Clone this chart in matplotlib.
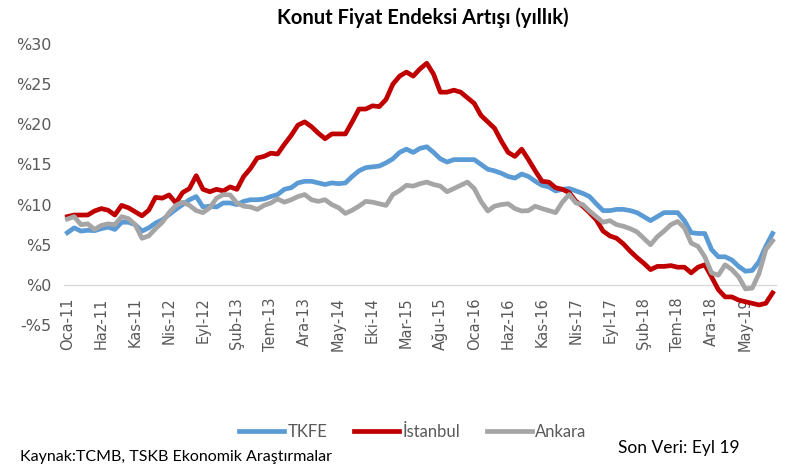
import numpy as np
import matplotlib
matplotlib.use("Agg")
import matplotlib.pyplot as plt

# monthly labels, Oca-11 .. Eyl-19
months_tr = ["Oca", "Şub", "Mar", "Nis", "May", "Haz",
             "Tem", "Ağu", "Eyl", "Eki", "Kas", "Ara"]
dates = [f"{months_tr[m]}-{y % 100:02d}" for y in range(2011, 2020) for m in range(12)]
dates = dates[:105]

tkfe = [6.5, 7.1, 6.7, 6.8, 6.75, 7.0, 7.2, 6.9, 7.8, 7.8,
        7.5, 6.7, 7.1, 7.7, 8.1, 8.75, 9.4, 10.0, 10.6, 11.0,
        9.7, 9.8, 9.7, 10.2, 10.2, 10.0, 10.4, 10.6, 10.6, 10.7,
        11.0, 11.25, 11.9, 12.1, 12.7, 12.9, 12.9, 12.7, 12.5, 12.7,
        12.6, 12.7, 13.5, 14.2, 14.6, 14.7, 14.8, 15.2, 15.7, 16.5,
        16.9, 16.5, 17.0, 17.2, 16.5, 15.7, 15.3, 15.6, 15.6, 15.6,
        15.6, 15.0, 14.4, 14.2, 13.9, 13.5, 13.3, 13.8, 13.5, 12.9,
        12.4, 12.2, 11.7, 11.9, 12.0, 11.7, 11.4, 11.0, 10.1, 9.25,
        9.25, 9.4, 9.4, 9.25, 9.0, 8.5, 8.0, 8.5, 9.0, 9.0,
        9.0, 8.0, 6.5, 6.4, 6.4, 4.4, 3.5, 3.5, 3.1, 2.3,
        1.7, 1.8, 2.9, 4.8, 6.4]

istanbul = [8.5, 8.7, 8.7, 8.7, 9.2, 9.5, 9.3, 8.7, 9.9, 9.6,
            9.1, 8.6, 9.3, 10.9, 10.8, 11.2, 10.2, 11.5, 12.0, 13.6,
            11.9, 11.6, 11.9, 11.7, 12.2, 11.9, 13.5, 14.5, 15.8, 16.0,
            16.4, 16.3, 17.5, 18.6, 19.9, 20.3, 19.7, 18.9, 18.2, 18.8,
            18.8, 18.8, 20.3, 21.9, 21.9, 22.3, 22.2, 23.1, 25.0, 26.0,
            26.5, 26.0, 26.9, 27.6, 26.25, 24.0, 24.0, 24.25, 24.0, 23.3,
            22.6, 21.1, 20.3, 19.5, 17.9, 16.5, 16.0, 16.9, 15.6, 14.2,
            12.9, 12.8, 12.1, 11.9, 11.5, 10.4, 9.8, 9.0, 8.1, 6.7,
            6.1, 5.8, 5.1, 4.2, 3.4, 2.7, 1.9, 2.3, 2.3, 2.4,
            2.2, 2.2, 1.5, 2.2, 2.5, 1.0, -0.6, -1.5, -1.5, -1.9,
            -2.1, -2.3, -2.5, -2.3, -1.0]

ankara = [8.2, 8.5, 7.5, 7.6, 6.9, 7.4, 7.6, 7.5, 8.5, 8.25,
          7.5, 5.8, 6.1, 7.0, 7.8, 9.0, 9.9, 10.3, 9.9, 9.25,
          9.0, 9.6, 10.8, 11.25, 11.2, 10.2, 9.8, 9.7, 9.4, 9.9,
          10.2, 10.7, 10.3, 10.6, 11.0, 11.25, 10.6, 10.4, 10.6, 10.0,
          9.6, 8.9, 9.3, 9.8, 10.4, 10.3, 10.1, 9.9, 11.25, 11.75,
          12.4, 12.3, 12.6, 12.8, 12.5, 12.3, 11.6, 12.0, 12.4, 12.8,
          12.0, 10.4, 9.2, 9.8, 10.0, 10.1, 9.5, 9.2, 9.25, 9.8,
          9.5, 9.25, 9.0, 10.3, 11.25, 10.2, 10.0, 9.2, 8.5, 7.8,
          8.0, 7.5, 7.3, 7.0, 6.6, 5.8, 5.0, 6.0, 6.7, 7.5,
          7.9, 7.1, 5.2, 4.8, 3.5, 1.5, 1.2, 2.5, 1.9, 1.0,
          -0.5, -0.4, 1.4, 4.4, 5.5]

y_ticks = [-5, 0, 5, 10, 15, 20, 25, 30]

plt.rcParams['font.family'] = ['Lato', 'DejaVu Sans']
grey_txt = '#595959'

fig = plt.figure(figsize=(7.91, 4.72), dpi=100)
ax = fig.add_axes([0.0809, 0.3114, 0.9001, 0.5954])

# zero line doubles as the category axis (labels hang from it)
for s in ['top', 'right', 'left']:
    ax.spines[s].set_visible(False)
ax.spines['bottom'].set_position(('data', 0))
ax.spines['bottom'].set_color('#D9D9D9')
ax.spines['bottom'].set_linewidth(1.0)
ax.spines['bottom'].set_zorder(0)

x = np.arange(len(dates))
ax.plot(x, tkfe, color='#5B9BD5', lw=3.4, label='TKFE', solid_joinstyle='round')
ax.plot(x, istanbul, color='#C00000', lw=3.4, label='İstanbul', solid_joinstyle='round')
ax.plot(x, ankara, color='#A5A5A5', lw=3.4, label='Ankara', solid_joinstyle='round')

ax.set_xlim(-0.5, len(dates) - 0.5)
ax.set_ylim(-5, 30)
ax.set_yticks(y_ticks)
ax.set_yticklabels([f"-%{abs(v)}" if v < 0 else f"%{v}" for v in y_ticks],
                   family=['DejaVu Sans'])

ax.set_xticks(x[::5])
ax.set_xticklabels(dates[::5], family=['DejaVu Sans'])

ax.tick_params(axis='both', length=0, colors=grey_txt)
ax.tick_params(axis='x', pad=9, labelsize=10.5, labelrotation=90)
ax.tick_params(axis='y', pad=9, labelsize=11.5)

fig.text(0.535, 0.962, 'Konut Fiyat Endeksi Artışı (yıllık)', ha='center', va='center',
         fontsize=14.5, fontweight='bold', color='black')

fig.legend(loc='center', bbox_to_anchor=(0.522, 0.085), ncol=3, frameon=False,
           fontsize=12, handlelength=2.7, handletextpad=0.2, columnspacing=1.6,
           labelcolor=grey_txt)

fig.text(0.025, 0.032, 'Kaynak:TCMB, TSKB Ekonomik Araştırmalar', ha='left', va='center',
         fontsize=11.5, color='black')
fig.text(0.781, 0.05, 'Son Veri: Eyl 19', ha='left', va='center',
         fontsize=12.5, color='black')

fig.savefig('out.png', dpi=100)
